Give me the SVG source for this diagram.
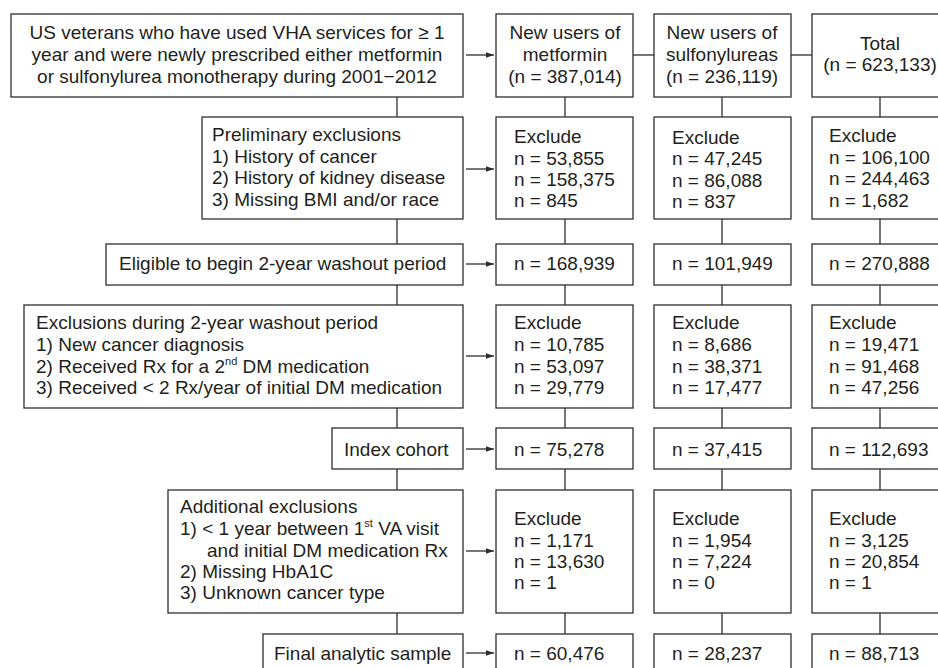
<svg xmlns="http://www.w3.org/2000/svg" width="938" height="668" viewBox="0 0 938 668">
<style>
  .box { fill: #ffffff; stroke: #2e2e2e; stroke-width: 1.3; }
  .t { font-family: "Liberation Sans", Arial, sans-serif; font-size: 19px; fill: #231f20; }
  .c { text-anchor: middle; }
  .sup { font-size: 11px; }
  .ln { stroke: #2e2e2e; stroke-width: 1.3; fill: none; }
</style>
<defs>
  <marker id="ah" markerUnits="userSpaceOnUse" markerWidth="8" markerHeight="8" viewBox="0 0 8 8" refX="8" refY="4" orient="auto">
    <path d="M0,1.3 L8,4 L0,6.7 Z" fill="#2e2e2e"/>
  </marker>
</defs>
<rect x="0" y="0" width="938" height="668" fill="#ffffff"/>

<g id="connectors">
  <!-- left trunk -->
  <line class="ln" x1="397" y1="97" x2="397" y2="117"/>
  <line class="ln" x1="397" y1="219" x2="397" y2="244"/>
  <line class="ln" x1="397" y1="285" x2="397" y2="305"/>
  <line class="ln" x1="397" y1="408" x2="397" y2="428"/>
  <line class="ln" x1="397" y1="469" x2="397" y2="490"/>
  <line class="ln" x1="397" y1="613" x2="397" y2="634"/>
  <!-- column verticals -->
  <line class="ln" x1="565" y1="97" x2="565" y2="117"/>
  <line class="ln" x1="565" y1="219" x2="565" y2="244"/>
  <line class="ln" x1="565" y1="285" x2="565" y2="305"/>
  <line class="ln" x1="565" y1="408" x2="565" y2="428"/>
  <line class="ln" x1="565" y1="469" x2="565" y2="490"/>
  <line class="ln" x1="565" y1="613" x2="565" y2="634"/>
  <line class="ln" x1="722" y1="97" x2="722" y2="117"/>
  <line class="ln" x1="722" y1="219" x2="722" y2="244"/>
  <line class="ln" x1="722" y1="285" x2="722" y2="305"/>
  <line class="ln" x1="722" y1="408" x2="722" y2="428"/>
  <line class="ln" x1="722" y1="469" x2="722" y2="490"/>
  <line class="ln" x1="722" y1="613" x2="722" y2="634"/>
  <line class="ln" x1="880" y1="97" x2="880" y2="117"/>
  <line class="ln" x1="880" y1="219" x2="880" y2="244"/>
  <line class="ln" x1="880" y1="285" x2="880" y2="305"/>
  <line class="ln" x1="880" y1="408" x2="880" y2="428"/>
  <line class="ln" x1="880" y1="469" x2="880" y2="490"/>
  <line class="ln" x1="880" y1="613" x2="880" y2="634"/>
  <!-- top row horizontal links -->
  <line class="ln" x1="633" y1="55" x2="654" y2="55"/>
  <line class="ln" x1="791" y1="55" x2="812" y2="55"/>
  <!-- arrows -->
  <line class="ln" x1="466" y1="55" x2="494" y2="55" marker-end="url(#ah)"/>
  <line class="ln" x1="466" y1="169" x2="494" y2="169" marker-end="url(#ah)"/>
  <line class="ln" x1="466" y1="264" x2="494" y2="264" marker-end="url(#ah)"/>
  <line class="ln" x1="466" y1="356" x2="494" y2="356" marker-end="url(#ah)"/>
  <line class="ln" x1="466" y1="449" x2="494" y2="449" marker-end="url(#ah)"/>
  <line class="ln" x1="466" y1="551" x2="494" y2="551" marker-end="url(#ah)"/>
  <line class="ln" x1="466" y1="653" x2="494" y2="653" marker-end="url(#ah)"/>
</g>

<!-- Row 1 -->
<g id="n-start">
  <rect class="box" x="11" y="14" width="452" height="83"/>
  <text class="t c" x="237" y="39">US veterans who have used VHA services for ≥ 1</text>
  <text class="t c" x="237" y="61">year and were newly prescribed either metformin</text>
  <text class="t c" x="237" y="83">or sulfonylurea monotherapy during 2001−2012</text>
</g>
<g id="n-met-1">
  <rect class="box" x="496" y="14" width="137" height="83"/>
  <text class="t c" x="565" y="39">New users of</text>
  <text class="t c" x="565" y="61">metformin</text>
  <text class="t c" x="565" y="83">(n = 387,014)</text>
</g>
<g id="n-sul-1">
  <rect class="box" x="654" y="14" width="137" height="83"/>
  <text class="t c" x="722" y="39">New users of</text>
  <text class="t c" x="722" y="61">sulfonylureas</text>
  <text class="t c" x="722" y="83">(n = 236,119)</text>
</g>
<g id="n-tot-1">
  <rect class="box" x="812" y="14" width="137" height="83"/>
  <text class="t c" x="880" y="50">Total</text>
  <text class="t c" x="880" y="71">(n = 623,133)</text>
</g>

<!-- Row 2 -->
<g id="n-prelim">
  <rect class="box" x="202" y="117" width="261" height="102"/>
  <text class="t" x="212" y="141">Preliminary exclusions</text>
  <text class="t" x="212" y="163">1) History of cancer</text>
  <text class="t" x="212" y="184">2) History of kidney disease</text>
  <text class="t" x="212" y="206">3) Missing BMI and/or race</text>
</g>
<g id="n-met-2">
  <rect class="box" x="496" y="117" width="137" height="102"/>
  <text class="t" x="514" y="143">Exclude</text>
  <text class="t" x="514" y="165">n = 53,855</text>
  <text class="t" x="514" y="186">n = 158,375</text>
  <text class="t" x="514" y="207">n = 845</text>
</g>
<g id="n-sul-2">
  <rect class="box" x="654" y="117" width="137" height="102"/>
  <text class="t" x="672" y="144">Exclude</text>
  <text class="t" x="672" y="165">n = 47,245</text>
  <text class="t" x="672" y="187">n = 86,088</text>
  <text class="t" x="672" y="208">n = 837</text>
</g>
<g id="n-tot-2">
  <rect class="box" x="812" y="117" width="137" height="102"/>
  <text class="t" x="829" y="142">Exclude</text>
  <text class="t" x="829" y="164">n = 106,100</text>
  <text class="t" x="829" y="185">n = 244,463</text>
  <text class="t" x="829" y="207">n = 1,682</text>
</g>

<!-- Row 3 -->
<g id="n-eligible">
  <rect class="box" x="106" y="244" width="357" height="41"/>
  <text class="t" x="119" y="270">Eligible to begin 2-year washout period</text>
</g>
<g id="n-met-3">
  <rect class="box" x="496" y="244" width="137" height="41"/>
  <text class="t" x="514" y="270">n = 168,939</text>
</g>
<g id="n-sul-3">
  <rect class="box" x="654" y="244" width="137" height="41"/>
  <text class="t" x="672" y="270">n = 101,949</text>
</g>
<g id="n-tot-3">
  <rect class="box" x="812" y="244" width="137" height="41"/>
  <text class="t" x="829" y="270">n = 270,888</text>
</g>

<!-- Row 4 -->
<g id="n-washout">
  <rect class="box" x="24" y="305" width="439" height="103"/>
  <text class="t" x="36" y="329">Exclusions during 2-year washout period</text>
  <text class="t" x="36" y="351">1) New cancer diagnosis</text>
  <text class="t" x="36" y="373">2) Received Rx for a 2<tspan class="sup" dy="-8">nd</tspan><tspan dy="8"> DM medication</tspan></text>
  <text class="t" x="36" y="394">3) Received &lt; 2 Rx/year of initial DM medication</text>
</g>
<g id="n-met-4">
  <rect class="box" x="496" y="305" width="137" height="103"/>
  <text class="t" x="514" y="329">Exclude</text>
  <text class="t" x="514" y="351">n = 10,785</text>
  <text class="t" x="514" y="373">n = 53,097</text>
  <text class="t" x="514" y="394">n = 29,779</text>
</g>
<g id="n-sul-4">
  <rect class="box" x="654" y="305" width="137" height="103"/>
  <text class="t" x="672" y="329">Exclude</text>
  <text class="t" x="672" y="351">n = 8,686</text>
  <text class="t" x="672" y="373">n = 38,371</text>
  <text class="t" x="672" y="394">n = 17,477</text>
</g>
<g id="n-tot-4">
  <rect class="box" x="812" y="305" width="137" height="103"/>
  <text class="t" x="829" y="329">Exclude</text>
  <text class="t" x="829" y="351">n = 19,471</text>
  <text class="t" x="829" y="373">n = 91,468</text>
  <text class="t" x="829" y="394">n = 47,256</text>
</g>

<!-- Row 5 -->
<g id="n-index">
  <rect class="box" x="332" y="428" width="131" height="41"/>
  <text class="t" x="344" y="456">Index cohort</text>
</g>
<g id="n-met-5">
  <rect class="box" x="496" y="428" width="137" height="41"/>
  <text class="t" x="514" y="456">n = 75,278</text>
</g>
<g id="n-sul-5">
  <rect class="box" x="654" y="428" width="137" height="41"/>
  <text class="t" x="672" y="456">n = 37,415</text>
</g>
<g id="n-tot-5">
  <rect class="box" x="812" y="428" width="137" height="41"/>
  <text class="t" x="829" y="456">n = 112,693</text>
</g>

<!-- Row 6 -->
<g id="n-additional">
  <rect class="box" x="168" y="490" width="295" height="123"/>
  <text class="t" x="180" y="513">Additional exclusions</text>
  <text class="t" x="180" y="535">1) &lt; 1 year between 1<tspan class="sup" dy="-8">st</tspan><tspan dy="8"> VA visit</tspan></text>
  <text class="t" x="207" y="557">and initial DM medication Rx</text>
  <text class="t" x="180" y="578">2) Missing HbA1C</text>
  <text class="t" x="180" y="599">3) Unknown cancer type</text>
</g>
<g id="n-met-6">
  <rect class="box" x="496" y="490" width="137" height="123"/>
  <text class="t" x="514" y="525">Exclude</text>
  <text class="t" x="514" y="547">n = 1,171</text>
  <text class="t" x="514" y="568">n = 13,630</text>
  <text class="t" x="514" y="589">n = 1</text>
</g>
<g id="n-sul-6">
  <rect class="box" x="654" y="490" width="137" height="123"/>
  <text class="t" x="672" y="525">Exclude</text>
  <text class="t" x="672" y="547">n = 1,954</text>
  <text class="t" x="672" y="568">n = 7,224</text>
  <text class="t" x="672" y="589">n = 0</text>
</g>
<g id="n-tot-6">
  <rect class="box" x="812" y="490" width="137" height="123"/>
  <text class="t" x="829" y="525">Exclude</text>
  <text class="t" x="829" y="547">n = 3,125</text>
  <text class="t" x="829" y="568">n = 20,854</text>
  <text class="t" x="829" y="589">n = 1</text>
</g>

<!-- Row 7 -->
<g id="n-final">
  <rect class="box" x="263" y="634" width="200" height="60"/>
  <text class="t" x="274" y="660">Final analytic sample</text>
</g>
<g id="n-met-7">
  <rect class="box" x="496" y="634" width="137" height="60"/>
  <text class="t" x="514" y="660">n = 60,476</text>
</g>
<g id="n-sul-7">
  <rect class="box" x="654" y="634" width="137" height="60"/>
  <text class="t" x="672" y="660">n = 28,237</text>
</g>
<g id="n-tot-7">
  <rect class="box" x="812" y="634" width="137" height="60"/>
  <text class="t" x="829" y="660">n = 88,713</text>
</g>
</svg>
